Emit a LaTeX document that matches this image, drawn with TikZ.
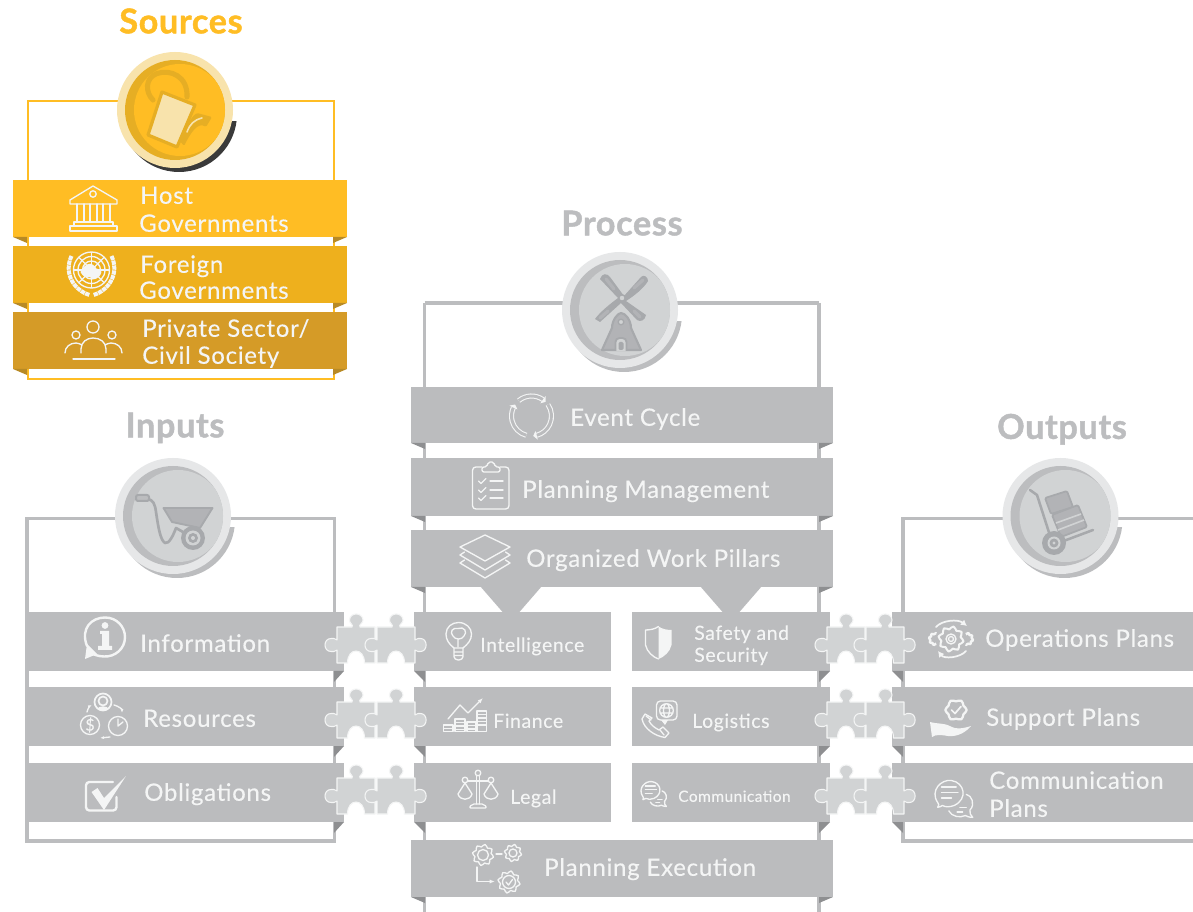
\documentclass[tikz,border=0pt]{standalone}
\usepackage{fontspec}
\setmainfont[LetterSpace=3,FakeBold=0.25,BoldFeatures={FakeBold=1.3,LetterSpace=2}]{Lato}
\usetikzlibrary{arrows.meta}
\definecolor{bandg}{HTML}{BBBCBE}
\definecolor{foldg}{HTML}{8E8F91}
\definecolor{framg}{HTML}{BCBDBF}
\definecolor{lightg}{HTML}{D1D3D4}
\definecolor{ringg}{HTML}{E6E7E8}
\definecolor{icong}{HTML}{A7A9AC}
\definecolor{iconf}{HTML}{B2B3B6}
\definecolor{txt}{HTML}{F4F5F5}
\definecolor{yA}{HTML}{FFBD24}
\definecolor{yB}{HTML}{EEB01D}
\definecolor{yC}{HTML}{D59B27}
\definecolor{yF}{HTML}{B88A25}
\definecolor{yD}{HTML}{E6AE24}
\definecolor{yL}{HTML}{F8E3AC}
\definecolor{shadowk}{HTML}{3A3A3A}
\tikzset{
  x=0.75pt,y=-0.75pt,
  lbl/.style={anchor=base west,inner sep=0pt,text=txt,yshift=-0.6pt,font=\fontsize{18}{20}\selectfont},
  lblm/.style={lbl,font=\fontsize{14.6}{18}\selectfont},
  lbls/.style={lbl,font=\fontsize{11.6}{14}\selectfont},
  ttl/.style={anchor=base,inner sep=0pt,yshift=-1pt,font=\fontsize{25.6}{28}\selectfont\bfseries},
  ico/.style={draw=txt,line width=1pt,line join=round,line cap=round},
  icoT/.style={draw=txt,line width=1.8pt,line join=round,line cap=round},
  pz/.style={fill=lightg,draw=txt,line width=0.8pt,line join=round},
  frameY/.style={draw=yA,line width=1.5pt},
  frameG/.style={draw=framg,line width=2.5pt},
}
\newcommand{\bandfold}[6]{%
  \fill[#5] (#1,#2) rectangle (#3,#4);
  \fill[#6] (#1,#4) -- ++(14,0) -- ++(0,6) -- cycle;
  \fill[#6] (#3,#4) -- ++(-14,0) -- ++(0,6) -- cycle;}
\newcommand{\rowband}[4]{\fill[bandg] (#1,#2) rectangle (#3,#4);}
\newcommand{\foldL}[2]{\fill[foldg] (#1,#2) -- ++(11,0) -- ++(0,11) -- cycle;}
\newcommand{\foldR}[2]{\fill[foldg] (#1,#2) -- ++(-11,0) -- ++(0,11) -- cycle;}
\newcommand{\pieceA}[2]{\path[pz,shift={(#1,#2)}] (0,0) -- (15,0) .. controls (17,-2) and (12,-4) .. (12.5,-7) .. controls (13,-15) and (25.5,-15) .. (26,-7) .. controls (26.5,-4) and (21,-2) .. (23,0) -- (38,0) -- (38,36) -- (27.5,36) .. controls (27.5,20) and (10.5,20) .. (10.5,36) -- (0,36) -- (0,23) .. controls (-2,25) and (-4,24.5) .. (-6,24.5) .. controls (-14,24.5) and (-14,11.5) .. (-6,11.5) .. controls (-4,11.5) and (-2,11) .. (0,13) -- cycle;}
\newcommand{\pieceB}[2]{\path[pz,shift={(#1,#2)}] (0,0) -- (15,0) .. controls (17,-2) and (12,-4) .. (12.5,-7) .. controls (13,-15) and (25.5,-15) .. (26,-7) .. controls (26.5,-4) and (21,-2) .. (23,0) -- (38,0) -- (38,13) .. controls (40,11) and (42,11.5) .. (43.5,11.5) .. controls (51,11.5) and (51,24.5) .. (43.5,24.5) .. controls (42,24.5) and (40,25) .. (38,23) -- (38,36) -- (27.5,36) .. controls (27.5,20) and (10.5,20) .. (10.5,36) -- (0,36) -- (0,23) .. controls (-2,25) and (-4,24.5) .. (-6,24.5) .. controls (-14,24.5) and (-14,11.5) .. (-6,11.5) .. controls (-4,11.5) and (-2,11) .. (0,13) -- cycle;}
\newcommand{\medal}[7]{%
  \begin{scope}
    \clip (#1-70,#7) rectangle (#1+70,#2+70);
    \fill[#6] (#1+4,#2+4) circle[radius=58];
  \end{scope}
  \fill[#3] (#1,#2) circle[radius=58];
  \fill[#4] (#1,#2) circle[radius=50];
  \begin{scope}
    \clip (#1,#2) circle[radius=50];
    \fill[#5] (#1+5,#2) circle[radius=46];
  \end{scope}}
\newcommand{\gearico}[4][ico]{\draw[#1,shift={(#2,#3)},smooth cycle] plot[domain=0:348.75,samples=32] (\x:{#4*(0.9+0.12*sin(8*\x))});}
\newcommand{\bubbles}[3]{%
  \begin{scope}[shift={(#1,#2)},scale=#3]
    \draw[ico] (3,22) .. controls (5,19) and (4,19) .. (3,17) .. controls (-6,4) and (7,-9) .. (18,-7) .. controls (32,-5) and (36,13) .. (21,20) .. controls (16,22) and (11,22) .. (8,20) .. controls (7,21) and (5,22) .. (3,22) -- cycle;
    \draw[ico] (7,0) -- (23,0) (7,6) -- (25,6) (7,12) -- (18,12);
    \draw[ico] (34,8) .. controls (40,9) and (44,19) .. (38,25) .. controls (37,28) and (39,31) .. (41,33) .. controls (37,33) and (35,32) .. (33,31) .. controls (27,34) and (18,32) .. (15,26);
    \draw[ico] (27,22) -- (34,22) (24,27) -- (30,27);
  \end{scope}}
\begin{document}
\begin{tikzpicture}
\useasboundingbox (0,0) rectangle (1193,912);
\fill[white] (0,0) rectangle (1193,912);
\begin{scope}
\clip (0,0) rectangle (1193,912);
% ---------- frames
\draw[frameY] (27.5,101) rectangle (334,379);
\draw[frameG] (424.5,303) -- (424.5,912) (819,303) -- (819,912) (424.5,303) -- (819,303);
\draw[frameG] (27,518.5) rectangle (334.5,841);
\draw[frameG] (1193,518.5) -- (903,518.5) -- (903,841) -- (1193,841);
% ---------- medallions
\medal{175}{110}{yL}{yD}{yA}{shadowk}{122}
\medal{620}{310}{ringg}{framg}{lightg}{framg}{322}
\medal{173}{516}{ringg}{framg}{lightg}{framg}{528}
\medal{1060.5}{516}{ringg}{framg}{lightg}{framg}{528}
% watering can
\draw[yD,line width=3.8pt,line cap=round,line join=round] (153,100) .. controls (145,92) and (145,78) .. (157,73.5) .. controls (170,69) and (188,76) .. (187,97);
\fill[yD,rounded corners=1pt] (180,141) .. controls (186,128) and (190,118) .. (197,113) -- (212,117) -- (206,127) .. controls (198,122) and (191,132) .. (184,146) -- cycle;
\draw[yL,line width=1.2pt,line cap=round] (187,132) .. controls (190,124) and (194,120) .. (202,118);
\draw[fill=yL,draw=yD,line width=2.4pt,line join=round] (162,92) -- (195,105) -- (177,147) -- (148,135) -- cycle;
% windmill
\begin{scope}[line cap=round,line join=round]
  \fill[icong] (600,279) .. controls (602,273) and (607,273) .. (610,277) -- (624,296) -- (641,277) .. controls (644,274) and (648,277) .. (648,281) .. controls (644,288) and (634,296) .. (626,301) -- (646,315) .. controls (645,321) and (640,322) .. (637,320) -- (621,303) -- (600,322) -- (595,319) .. controls (600,312) and (610,304) .. (618,298) -- cycle;
  \draw[iconf,line width=2.4pt] (606,279) -- (614,289) (643,280) -- (634,288) (600,318) -- (608,311) (640,317) -- (634,311);
\end{scope}
\draw[draw=icong,fill=iconf,line width=1.6pt,line join=round] (612,328) .. controls (612,320) and (618,313) .. (621,313) .. controls (625,313) and (631,320) .. (631,328) -- (641,350) -- (602,350) -- cycle;
\fill[lightg] (622,298) circle[radius=3.2];
\draw[icong,line width=1.1pt] (622,298) circle[radius=3.2];
\draw[draw=icong,fill=lightg,line width=1pt] (621,322) circle[radius=2.8];
\draw[draw=icong,fill=lightg,line width=1.4pt,rounded corners=3pt] (615.5,351) -- (615.5,338) -- (626.5,338) -- (626.5,351);
\fill[icong,rounded corners=1pt] (618.5,350) -- (618.5,342) -- (623.5,342) -- (623.5,350) -- cycle;
% wheelbarrow
\draw[icong,line width=2pt,line cap=round,line join=round] (148,499) .. controls (153,500) and (155,504) .. (156,512) .. controls (158,525) and (160,540) .. (165,543) .. controls (169,544) and (173,536) .. (176,528) -- (190,536);
\draw[icong,line width=1.5pt,fill=framg,rounded corners=1.5pt] (136,495) rectangle (149,501);
\draw[draw=icong,fill=iconf,line join=round,line width=1.4pt] (163.5,508) -- (212.5,508) -- (200,528) -- (172,522) -- cycle;
\fill[icong] (193,538) circle[radius=12];
\fill[lightg] (193,538) circle[radius=7.5];
\fill[icong] (193,538) circle[radius=5];
\fill[lightg] (193,538) circle[radius=2];
% hand truck
\draw[icong,line width=1.9pt,line cap=round,line join=round] (1030,490) -- (1037,495) -- (1053,545) -- (1093,530);
\draw[draw=icong,fill=iconf,line width=1.3pt,line join=round,rounded corners=1pt] (1045,498) -- (1067,491) -- (1073,507) -- (1051,514) -- cycle;
\draw[draw=icong,fill=iconf,line width=1.3pt,line join=round,rounded corners=1pt] (1052,515) -- (1078,505) -- (1087,527) -- (1061,537) -- cycle;
\draw[lightg,line width=1.2pt] (1056,523) -- (1081,514) (1058,530) -- (1084,520);
\fill[icong] (1054,543) circle[radius=12];
\fill[lightg] (1054,543) circle[radius=6.5];
\fill[icong] (1054,543) circle[radius=4.5];
\fill[lightg] (1054,543) circle[radius=1.6];
% ---------- sources bands
\bandfold{13}{180}{347}{237}{yA}{yF}
\bandfold{13}{246}{347}{303}{yB}{yF}
\bandfold{13}{312}{347}{369}{yC}{yF}
% ---------- process bands
\bandfold{411}{387}{833}{443}{bandg}{foldg}
\bandfold{411}{458}{833}{516}{bandg}{foldg}
\bandfold{411}{530}{833}{587}{bandg}{foldg}
\fill[bandg] (480,586) -- (542,586) -- (519,612.5) -- (503,612.5) -- cycle;
\fill[bandg] (700,586) -- (762,586) -- (739,612.5) -- (723,612.5) -- cycle;
\bandfold{411}{840}{833}{897}{bandg}{foldg}
% ---------- rows
\foreach \yy in {612,687,763}{
  \pgfmathtruncatemacro{\yb}{\yy+59}
  \rowband{27}{\yy}{344}{\yb}
  \rowband{414}{\yy}{611}{\yb}
  \rowband{632}{\yy}{830}{\yb}
  \rowband{892}{\yy}{1193}{\yb}
  \fill[foldg] (334,\yb) -- (344,\yb) -- (334,\yb+11) -- cycle;
  \foldL{414}{\yb}
  \foldR{830}{\yb}
  \foldL{892}{\yb}
  \pgfmathsetmacro{\yp}{\yy+15}
  \pieceA{337}{\yp}
  \pieceB{377}{\yp}
  \pieceA{827}{\yp}
  \pieceB{866}{\yp}
}
% ---------- bank
\draw[ico] (70,200) -- (93,186) -- (117,200) -- (117,204) -- (70,204) -- cycle;
\draw[ico] (93,194) circle[radius=3.2];
\draw[ico] (77,204) -- (77,222) (84,204) -- (84,222) (90,204) -- (90,222) (97,204) -- (97,222) (103,204) -- (103,222) (110,204) -- (110,222);
\draw[ico] (74,222) -- (113,222) -- (113,226) -- (74,226) -- cycle;
\draw[ico] (70,226) -- (117,226) -- (117,231) -- (70,231) -- cycle;
% ---------- UN emblem
\begin{scope}[shift={(91.5,270)}]
  \foreach \r in {4.5,9,13.5,18}{\draw[txt,line width=1pt] (0,0) circle[radius=\r];}
  \foreach \a in {0,45,...,315}{\draw[txt,line width=0.9pt] (0,0) -- (\a:18);}
  \fill[txt] (-11,2) .. controls (-7,-6) and (-1,-8) .. (2,-5) .. controls (0,0) and (9,-3) .. (10,2) .. controls (8,9) and (2,11) .. (-2,7) .. controls (-6,8) and (-9,6) .. (-11,2) -- cycle;
  \draw[txt,line width=3pt,dash pattern=on 3.2pt off 0.5pt] (-20,-14) .. controls (-28,3) and (-18,20) .. (-2,25);
  \draw[txt,line width=3pt,dash pattern=on 3.2pt off 0.5pt] (20,-14) .. controls (28,3) and (18,20) .. (2,25);
\end{scope}
% ---------- people
\draw[ico] (93,327) circle[radius=6] (76,335) circle[radius=4] (112,335) circle[radius=4];
\draw[ico] (81,353) -- (81,349) .. controls (81,342) and (87,338) .. (93,338) .. controls (100,338) and (106,342) .. (106,349) -- (106,353);
\draw[ico] (65,353) .. controls (65,347) and (70,343) .. (76,343) .. controls (78,343) and (80,344) .. (82,345);
\draw[ico] (122,353) .. controls (122,347) and (117,343) .. (111,343) .. controls (109,343) and (107,344) .. (105,345);
\draw[ico] (73,359) -- (115,359);
% ---------- event cycle
\begin{scope}[shift={(531.5,416)}]
  \foreach \s/\e in {-130/-55,-35/75,105/205}{
    \draw[txt,line width=3.8pt] (\s:20) arc[start angle=\s,end angle=\e,radius=20];
    \draw[bandg,line width=2.2pt] (\s:20) arc[start angle=\s,end angle=\e,radius=20];
    \fill[txt] (\e:15.5) -- (\e:24.5) -- (\e+10:20) -- cycle;
  }
\end{scope}
% ---------- clipboard
\draw[ico,rounded corners=2.5pt] (482,467) -- (472.5,467) -- (472.5,509) -- (509,509) -- (509,467) -- (500,467);
\draw[ico,rounded corners=1.5pt] (482,472) -- (482,467) -- (487,467) -- (488,462) -- (494,462) -- (495,467) -- (500,467) -- (500,472) -- cycle;
\foreach \yy in {481,490,498}{
  \draw[ico] (478.5,\yy) -- (481,\yy+2.5) -- (486,\yy-2.5);
  \draw[ico] (490,\yy) -- (503,\yy);
}
% ---------- layers
\draw[ico] (460,547) -- (485,535) -- (510,547) -- (485,561) -- cycle;
\draw[ico] (464.5,552) -- (460,555) -- (485,570) -- (510,555) -- (505.5,552);
\draw[ico] (464.5,560) -- (460,563) -- (485,578) -- (510,563) -- (505.5,560);
% ---------- information
\draw[icoT] (87,646) .. controls (80,628) and (92,617.5) .. (105,617.5) .. controls (117,617.5) and (125,627) .. (125,637) .. controls (125,649) and (115,657) .. (104,656.5) .. controls (98,656.5) and (93,654) .. (90,653);
\fill[txt] (87,644) -- (85,659) -- (97,654) -- cycle;
\fill[txt] (105,625.5) circle[radius=3.4];
\fill[txt] (100,631) -- (109,631) -- (109,646) -- (112,646) -- (112,650) -- (98,650) -- (98,646) -- (102,646) -- (102,634) -- (100,634) -- cycle;
% ---------- resources
\draw[icoT,line width=1.3pt] (103,702) circle[radius=8.5] (103,701) circle[radius=4.5];
\fill[txt] (97,709) .. controls (99,705.5) and (107,705.5) .. (109,709) -- (105,710) -- (101,710) -- cycle;
\draw[ico] (90,725) circle[radius=9.5] (118,726) circle[radius=9.5];
\node[inner sep=0pt,text=txt,font=\fontsize{12}{12}\selectfont] (dollar) at (90,725) {\$};
\draw[ico] (118,719) -- (118,726) -- (123,722);
\draw[ico,-{Latex[length=3pt]}] (87,712) .. controls (88,708) and (90,706) .. (92,705);
\draw[ico,-{Latex[length=3pt]}] (114,705) .. controls (118,706) and (122,709) .. (122,713);
\draw[ico,-{Latex[length=3pt]}] (110,737) -- (100,738);
% ---------- checkbox
\draw[icoT,rounded corners=2.5pt] (113,782) -- (86,782) -- (86,810.5) -- (116.5,810.5) -- (116.5,797);
\fill[txt,line join=round] (91.5,792) -- (97.5,788) -- (104,798) -- (126,776) -- (104,810) -- cycle;
% ---------- bulb
\draw[ico] (454,648) .. controls (449,644) and (446,640) .. (446,634) .. controls (446,627) and (452,622.5) .. (458.5,622.5) .. controls (466,622.5) and (471.5,628) .. (471.5,634) .. controls (471.5,640) and (468,644) .. (463,648) -- cycle;
\draw[ico,rounded corners=1pt] (454,648) -- (454,658) -- (457,660) -- (460,660) -- (463,658) -- (463,648) (454,652) -- (463,652) (454,655.5) -- (463,655.5);
\draw[ico] (458,647) -- (458,640) (453,636) .. controls (449,632) and (453,627) .. (458,628.5) .. controls (464,626) and (468,632) .. (464,636) .. controls (462,640) and (455,640) .. (453,636) -- cycle;
% ---------- finance
\draw[ico,-{Latex[length=4pt]}] (448,719) -- (460,705) -- (468,713) -- (483,698);
\foreach \xa/\xb/\yt in {443.5/453/725,455/465/719,467/476/722,477/486.5/711}{
  \draw[ico] (\xa,\yt) rectangle (\xb,731.5);
  \pgfmathsetmacro{\ym}{\yt+3.5}
  \draw[ico] (\xa,\ym) -- (\xb,\ym);
  \pgfmathsetmacro{\ymm}{\yt+7}
  \ifdim\ymm pt<731pt \draw[ico] (\xa,\ymm) -- (\xb,\ymm);\fi
  \pgfmathsetmacro{\ymmm}{\yt+10.5}
  \ifdim\ymmm pt<731pt \draw[ico] (\xa,\ymmm) -- (\xb,\ymmm);\fi
  \pgfmathsetmacro{\ymmmm}{\yt+14}
  \ifdim\ymmmm pt<731pt \draw[ico] (\xa,\ymmmm) -- (\xb,\ymmmm);\fi
}
% ---------- scales
\draw[ico] (478,773) circle[radius=2.8] (465,780) circle[radius=2.8] (491,780) circle[radius=2.8];
\draw[ico] (476.5,776) -- (476.5,804) (479.5,776) -- (479.5,804) (468,781) -- (488,781);
\draw[ico,rounded corners=1.5pt] (469,808) -- (472,804) -- (484,804) -- (487,808) -- cycle;
\draw[ico] (465,783) -- (458,794) .. controls (460,801) and (470,801) .. (472,794) -- cycle;
\draw[ico] (491,783) -- (484,794) .. controls (486,801) and (496,801) .. (498,794) -- cycle;
% ---------- shield
\fill[txt] (658.5,626.5) .. controls (662,629) and (667,630) .. (671.5,630) -- (671.5,645) .. controls (670,652) and (664,657) .. (658.5,659) -- cycle;
\draw[ico] (658.5,626.5) .. controls (655,629) and (650,630) .. (645.5,630) -- (645.5,645) .. controls (647,652) and (653,657) .. (658.5,659);
% ---------- phone + globe
\draw[ico,rounded corners=3pt] (656.5,701) rectangle (677,720);
\fill[txt] (661,720) -- (668,720) -- (665,725) -- cycle;
\draw[ico] (666.5,710.5) circle[radius=6.8] (666.5,710.5) ellipse[x radius=3,y radius=6.8] (660,708) -- (673,708) (660,713) -- (673,713);
\draw[ico] (645,714) -- (642,719) .. controls (644,729) and (655,736) .. (665,737.5) -- (669,733) -- (663,727) -- (659,730) .. controls (655,728) and (651,725) .. (649,721) -- (652,718) -- cycle;
\draw[ico] (646,716) -- (651,720) (660,730) -- (664,735);
% ---------- communication icons
\bubbles{641}{786}{0.62}
\bubbles{935}{787}{0.92}
% ---------- operations gears
\gearico[icoT]{935}{639}{6}
\gearico[icoT]{967}{639}{6}
\fill[bandg] (951,639) circle[radius=15.5];
\gearico[icoT,line width=1.5pt]{951}{639}{12.5}
\draw[ico] (951,639) circle[radius=5] (951,639) circle[radius=2.5];
\draw[icoT,line width=1.3pt,-{Latex[length=4.5pt,width=5pt]}] (936,627) .. controls (942,620) and (958,619) .. (967,626);
\draw[icoT,line width=1.3pt,-{Latex[length=4.5pt,width=5pt]}] (966,651) .. controls (960,658) and (944,659) .. (938,651);
% ---------- support icon
\draw[icoT,line width=1.7pt,shift={(956,710)},smooth cycle] plot[domain=0:345,samples=24] (\x:{10.5*(0.92+0.1*cos(6*\x))});
\draw[ico,line width=1.3pt] (951.5,710) -- (955,713.5) -- (961,706.5);
\fill[txt,line join=round] (930,722) .. controls (937,724) and (946,723) .. (952,727) .. controls (955,729) and (962,729) .. (971,726) .. controls (966,732) and (958,737) .. (948,736) .. controls (942,735) and (936,734) .. (932,737) -- cycle;
% ---------- planning execution icons
\gearico{483}{855}{10.5}
\draw[ico] (483,855) circle[radius=5.5];
\gearico{513}{853}{8.5}
\draw[ico] (513,853) circle[radius=4];
\gearico{509}{882}{11}
\draw[ico] (509,882) circle[radius=6.5] (506,882) -- (508.5,885) -- (512.5,879.5);
\draw[ico] (496,854) -- (502,854);
\draw[ico,-{Latex[length=4pt]}] (477,867) -- (477,881.5) -- (495,881.5);
% ---------- titles
\node[ttl,text=yA] (tSources) at (181,32) {Sources};
\node[ttl,text=framg] (tProcess) at (622,234) {Process};
\node[ttl,text=framg] (tInputs) at (175,436) {Inputs};
\node[ttl,text=framg] (tOutputs) at (1062,437.5) {Outputs};
% ---------- labels
\node[lbl] (l1) at (140,203) {Host};
\node[lbl] (l2) at (139,231) {Governments};
\node[lbl] (l3) at (140,272) {Foreign};
\node[lbl] (l4) at (139,298) {Governments};
\node[lbl] (l5) at (142,336) {Private Sector/};
\node[lbl] (l6) at (142,363) {Civil Society};
\node[lbl] (p1) at (570,425) {Event Cycle};
\node[lbl] (p2) at (522,497) {Planning Management};
\node[lbl] (p3) at (526,566) {Organized Work Pillars};
\node[lbl] (p4) at (544,875) {Planning Execution};
\node[lbl] (i1) at (140,651) {Information};
\node[lbl] (i2) at (143,726) {Resources};
\node[lbl] (i3) at (144,800) {Obligations};
\node[lblm] (w1) at (480,651) {Intelligence};
\node[lblm] (w2) at (493,727) {Finance};
\node[lblm] (w3) at (510,803) {Legal};
\node[lblm] (w4) at (694,639) {Safety and};
\node[lblm] (w5) at (694,661) {Security};
\node[lblm] (w6) at (692,727) {Logistics};
\node[lbls] (w7) at (678,801) {Communication};
\node[lbl] (o1) at (985,646) {Operations Plans};
\node[lbl] (o2) at (986,725) {Support Plans};
\node[lbl] (o3) at (989,788) {Communication};
\node[lbl] (o4) at (989,816) {Plans};
\end{scope}
\end{tikzpicture}
\end{document}
